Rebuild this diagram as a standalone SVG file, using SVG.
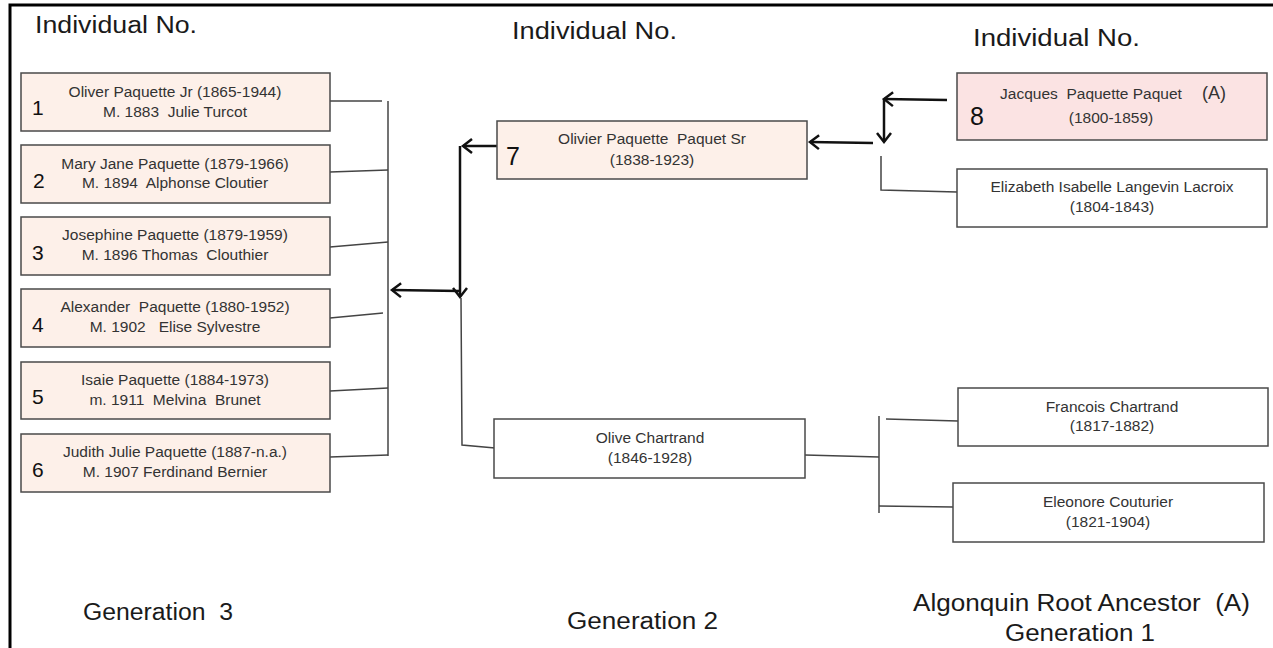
<svg xmlns="http://www.w3.org/2000/svg" width="1273" height="648" viewBox="0 0 1273 648">
<style>
.bg{fill:#ffffff}
.box{stroke:#4a4a4a;stroke-width:1.5}
.peach{fill:#fdf0e9}
.pink{fill:#fbe3e3}
.white{fill:#ffffff}
.t{font-family:"Liberation Sans",Arial,sans-serif;font-size:15.5px;fill:#333333;text-anchor:middle;white-space:pre}
.num{font-family:"Liberation Sans",Arial,sans-serif;font-size:21px;fill:#111111}
.bignum{font-family:"Liberation Sans",Arial,sans-serif;font-size:25px;fill:#111111}
.h{font-family:"Liberation Sans",Arial,sans-serif;font-size:23px;fill:#1a1a1a;white-space:pre}
.thin{fill:none;stroke:#444444;stroke-width:1.5}
.thick{fill:none;stroke:#111111;stroke-width:2.5;marker-end:url(#arr)}
.frame{fill:none;stroke:#000000;stroke-width:3}
</style>
<defs>
<marker id="arr" markerUnits="userSpaceOnUse" markerWidth="20" markerHeight="20" refX="0" refY="0" orient="auto" overflow="visible" viewBox="-12 -10 14 20">
<path d="M-9,-7 L0,0 L-9,7" fill="none" stroke="#111111" stroke-width="2.5" stroke-linejoin="miter"/>
</marker>
</defs>
<rect class="bg" x="0" y="0" width="1273" height="648"/>
<path class="frame" d="M10,648 L10,5 L1273,5"/>

<g id="headings">
<text class="h" x="35" y="33" textLength="162" lengthAdjust="spacingAndGlyphs">Individual No.</text>
<text class="h" x="512" y="39" textLength="165" lengthAdjust="spacingAndGlyphs">Individual No.</text>
<text class="h" x="973" y="46" textLength="167" lengthAdjust="spacingAndGlyphs">Individual No.</text>
<text class="h" x="83" y="620" textLength="150" lengthAdjust="spacingAndGlyphs" xml:space="preserve">Generation  3</text>
<text class="h" x="567" y="629" textLength="151" lengthAdjust="spacingAndGlyphs">Generation 2</text>
<text class="h" x="913" y="611" textLength="337" lengthAdjust="spacingAndGlyphs" xml:space="preserve">Algonquin Root Ancestor  (A)</text>
<text class="h" x="1005" y="641" textLength="150" lengthAdjust="spacingAndGlyphs">Generation 1</text>
</g>

<g id="connectors">
<path class="thin" d="M330,101 L382,101"/>
<path class="thin" d="M330,172 L388,170"/>
<path class="thin" d="M330,247 L388,242"/>
<path class="thin" d="M330,318 L383,313"/>
<path class="thin" d="M330,391 L388,388"/>
<path class="thin" d="M330,457 L388,455"/>
<path class="thin" d="M388,101 L388,456"/>
<path class="thick" d="M460,291 L392,290"/>
<path class="thick" d="M460,146 L460,297"/>
<path class="thick" d="M499,146 L463,146"/>
<path class="thin" d="M461,298 L462,445 L495,448"/>
<path class="thin" d="M805,455 L879,457"/>
<path class="thin" d="M879,416 L879,513"/>
<path class="thin" d="M886,419 L958,421"/>
<path class="thin" d="M879,506 L953,507"/>
<path class="thick" d="M873,143 L810,142"/>
<path class="thick" d="M947,100 L884,99"/>
<path class="thick" d="M884,99 L884,142"/>
<path class="thin" d="M881,156 L881,190 L957,192"/>
</g>

<g id="n1">
<rect class="box peach" x="21" y="73" width="309" height="58"/>
<text class="num" x="32" y="115">1</text>
<text class="t" x="175" y="97">Oliver Paquette Jr (1865-1944)</text>
<text class="t" x="175" y="117" xml:space="preserve">M. 1883  Julie Turcot</text>
</g>
<g id="n2">
<rect class="box peach" x="21" y="145" width="309" height="58"/>
<text class="num" x="33" y="188">2</text>
<text class="t" x="175" y="169">Mary Jane Paquette (1879-1966)</text>
<text class="t" x="175" y="188" xml:space="preserve">M. 1894  Alphonse Cloutier</text>
</g>
<g id="n3">
<rect class="box peach" x="21" y="217" width="309" height="58"/>
<text class="num" x="32" y="260">3</text>
<text class="t" x="175" y="240">Josephine Paquette (1879-1959)</text>
<text class="t" x="175" y="260" xml:space="preserve">M. 1896 Thomas  Clouthier</text>
</g>
<g id="n4">
<rect class="box peach" x="21" y="289" width="309" height="58"/>
<text class="num" x="32" y="332">4</text>
<text class="t" x="175" y="312" xml:space="preserve">Alexander  Paquette (1880-1952)</text>
<text class="t" x="175" y="332" xml:space="preserve">M. 1902   Elise Sylvestre</text>
</g>
<g id="n5">
<rect class="box peach" x="21" y="362" width="309" height="57"/>
<text class="num" x="32" y="404">5</text>
<text class="t" x="175" y="385">Isaie Paquette (1884-1973)</text>
<text class="t" x="175" y="405" xml:space="preserve">m. 1911  Melvina  Brunet</text>
</g>
<g id="n6">
<rect class="box peach" x="21" y="434" width="309" height="58"/>
<text class="num" x="32" y="477">6</text>
<text class="t" x="175" y="457">Judith Julie Paquette (1887-n.a.)</text>
<text class="t" x="175" y="477">M. 1907 Ferdinand Bernier</text>
</g>

<g id="n7">
<rect class="box peach" x="497" y="121" width="310" height="58"/>
<text class="bignum" x="506" y="165">7</text>
<text class="t" x="652" y="144" xml:space="preserve">Olivier Paquette  Paquet Sr</text>
<text class="t" x="652" y="165">(1838-1923)</text>
</g>
<g id="olive">
<rect class="box white" x="494" y="419" width="311" height="59"/>
<text class="t" x="650" y="443">Olive Chartrand</text>
<text class="t" x="650" y="463">(1846-1928)</text>
</g>

<g id="n8">
<rect class="box pink" x="957" y="73" width="310" height="67"/>
<text class="bignum" x="970" y="125">8</text>
<text class="t" x="1091" y="99" xml:space="preserve">Jacques  Paquette Paquet</text>
<text class="t" x="1214" y="99" style="font-size:18px">(A)</text>
<text class="t" x="1111" y="123">(1800-1859)</text>
</g>
<g id="elizabeth">
<rect class="box white" x="957" y="169" width="310" height="58"/>
<text class="t" x="1112" y="192">Elizabeth Isabelle Langevin Lacroix</text>
<text class="t" x="1112" y="212">(1804-1843)</text>
</g>
<g id="francois">
<rect class="box white" x="958" y="388" width="310" height="58"/>
<text class="t" x="1112" y="412">Francois Chartrand</text>
<text class="t" x="1112" y="431">(1817-1882)</text>
</g>
<g id="eleonore">
<rect class="box white" x="953" y="483" width="311" height="59"/>
<text class="t" x="1108" y="507">Eleonore Couturier</text>
<text class="t" x="1108" y="527">(1821-1904)</text>
</g>
</svg>
